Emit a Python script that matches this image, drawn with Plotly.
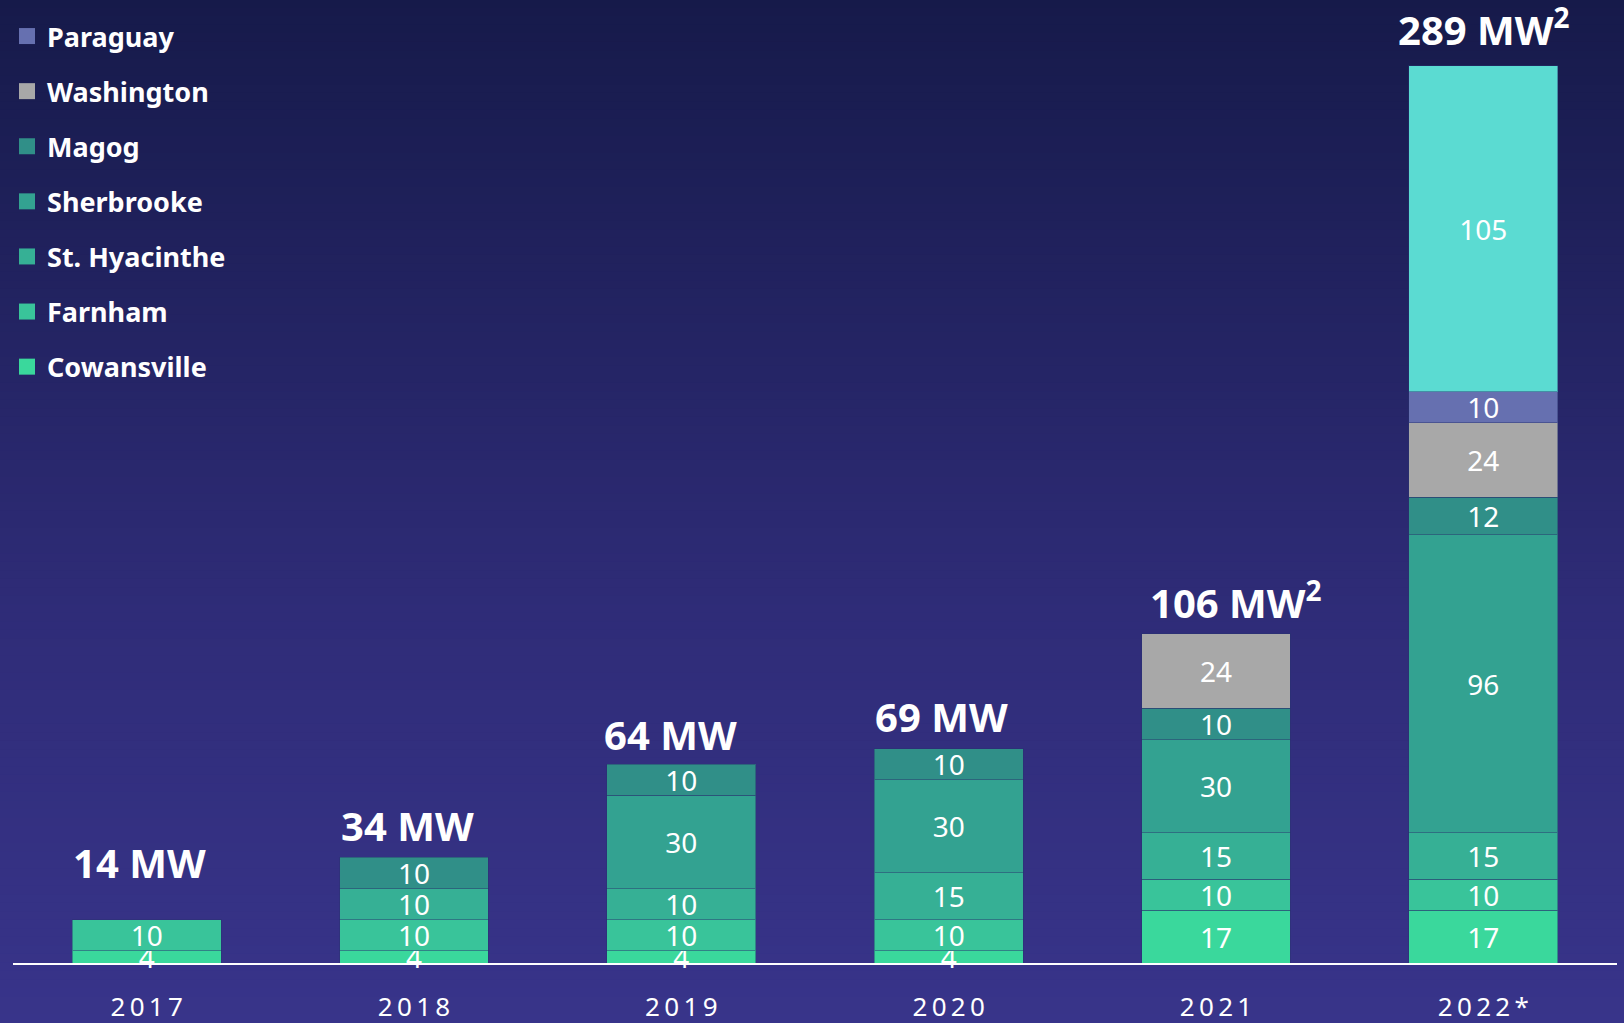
import plotly.graph_objects as go

# ---------------- data ----------------
years = ["2017", "2018", "2019", "2020", "2021", "2022*"]
cowansville = [4, 4, 4, 4, 17, 17]
farnham = [10, 10, 10, 10, 10, 10]
st_hyacinthe = [0, 10, 10, 15, 15, 15]
sherbrooke = [0, 0, 30, 30, 30, 96]
magog = [0, 10, 10, 10, 10, 12]
washington = [0, 0, 0, 0, 24, 24]
paraguay = [0, 0, 0, 0, 0, 10]
other = [0, 0, 0, 0, 0, 105]
total_labels = ["14 MW", "34 MW", "64 MW", "69 MW", "106 MW<sup>2</sup>", "289 MW<sup>2</sup>"]

series = [
    ("Cowansville", cowansville, "#3AD89C", True),
    ("Farnham", farnham, "#39C49A", True),
    ("St. Hyacinthe", st_hyacinthe, "#36B095", True),
    ("Sherbrooke", sherbrooke, "#33A291", True),
    ("Magog", magog, "#308F88", True),
    ("Washington", washington, "#A8A8A8", True),
    ("Paraguay", paraguay, "#6670B0", True),
    ("Other", other, "#5BDBD2", False),
]

# ---------------- styling ----------------
W, H = 1624, 1023
ML, MR, MT, MB = 13, 7, 30, 60
FONT = "Noto Sans"
plot_w = W - ML - MR
plot_h = H - MT - MB

fig = go.Figure()
for name, vals, color, show in series:
    fig.add_trace(go.Bar(
        name=name,
        x=years,
        y=[v if v else None for v in vals],
        text=[str(v) if v else "" for v in vals],
        textposition="inside",
        insidetextanchor="middle",
        textangle=0,
        textfont=dict(family=FONT, size=28, color="white"),
        marker=dict(color=color, line=dict(color="rgba(40,50,110,0.45)", width=1)),
        width=0.557,
        showlegend=False,
        cliponaxis=False,
    ))

# legend-only entries (bigger square swatches), top entry = last series
n_leg = sum(1 for s in series if s[3])
for idx, (name, vals, color, show) in enumerate(series):
    if not show:
        continue
    fig.add_trace(go.Scatter(
        name=name, x=[None], y=[None], mode="markers",
        marker=dict(symbol="square", size=17, color=color),
        showlegend=True, legendgroup=name, legendrank=n_leg - idx,
        hoverinfo="skip",
    ))

totals = [sum(s[1][i] for s in series) for i in range(len(years))]
label_yshift = [28, 2, 0, 3, 2, 7]
label_xshift = [-7, -7, -11, -7, 19, 0]
for i, (tot, lab) in enumerate(zip(totals, total_labels)):
    fig.add_annotation(
        x=i, y=tot, text="<b>" + lab + "</b>", showarrow=False,
        yanchor="bottom", xanchor="center",
        yshift=label_yshift[i], xshift=label_xshift[i],
        font=dict(family=FONT, size=40, color="white"),
    )

# gradient background via stacked strips (figure-pixel based)
top_rgb = (0x16, 0x1A, 0x4A)
mid_rgb = (0x2F, 0x2C, 0x78)
bot_rgb = (0x38, 0x34, 0x8A)
N = 120
shapes = []
for k in range(N):
    f0 = k / N
    f1 = (k + 1) / N
    fm = (f0 + f1) / 2  # 0 = top, 1 = bottom
    if fm < 0.6:
        t = fm / 0.6
        c = [round(top_rgb[j] + (mid_rgb[j] - top_rgb[j]) * t) for j in range(3)]
    else:
        t = (fm - 0.6) / 0.4
        c = [round(mid_rgb[j] + (bot_rgb[j] - mid_rgb[j]) * t) for j in range(3)]
    py0 = f0 * H - 1
    py1 = f1 * H + 1
    y0 = (H - MB - py0) / plot_h
    y1 = (H - MB - py1) / plot_h
    shapes.append(dict(
        type="rect", xref="paper", yref="paper",
        x0=-ML / plot_w - 0.01, x1=1 + MR / plot_w + 0.01,
        y0=y1, y1=y0, line=dict(width=0),
        fillcolor="rgb(%d,%d,%d)" % tuple(c), layer="below",
    ))

fig.update_layout(
    width=W, height=H,
    margin=dict(l=ML, r=MR, t=MT, b=MB, autoexpand=False),
    barmode="stack",
    bargap=0.443,
    paper_bgcolor="#262563",
    plot_bgcolor="rgba(0,0,0,0)",
    shapes=shapes,
    font=dict(family=FONT, color="white"),
    uniformtext=dict(minsize=28, mode="show"),
    showlegend=True,
    legend=dict(
        x=-6 / plot_w, y=1.0 + (MT - 12) / plot_h, xanchor="left", yanchor="top",
        traceorder="grouped", tracegroupgap=17,
        font=dict(family=FONT, size=27, color="white", weight="bold"),
        bgcolor="rgba(0,0,0,0)", itemwidth=30, itemclick=False,
    ),
    xaxis=dict(
        type="category",
        tickmode="array",
        tickvals=years,
        ticktext=["\u2009".join(list(y)) for y in years],
        tickfont=dict(family=FONT, size=26, color="white"),
        ticks="outside", ticklen=20, tickcolor="rgba(0,0,0,0)",
        showline=True, linecolor="white", linewidth=2,
        showgrid=False, zeroline=False, automargin=False,
        range=[-0.5, 5.5],
    ),
    yaxis=dict(
        range=[0, plot_h / 3.104],
        visible=False, showgrid=False, zeroline=False, automargin=False,
    ),
)

fig.write_html(
    "out.html",
    config={"displayModeBar": False},
    post_script="document.body.style.margin='0';document.body.style.overflow='hidden';",
)
